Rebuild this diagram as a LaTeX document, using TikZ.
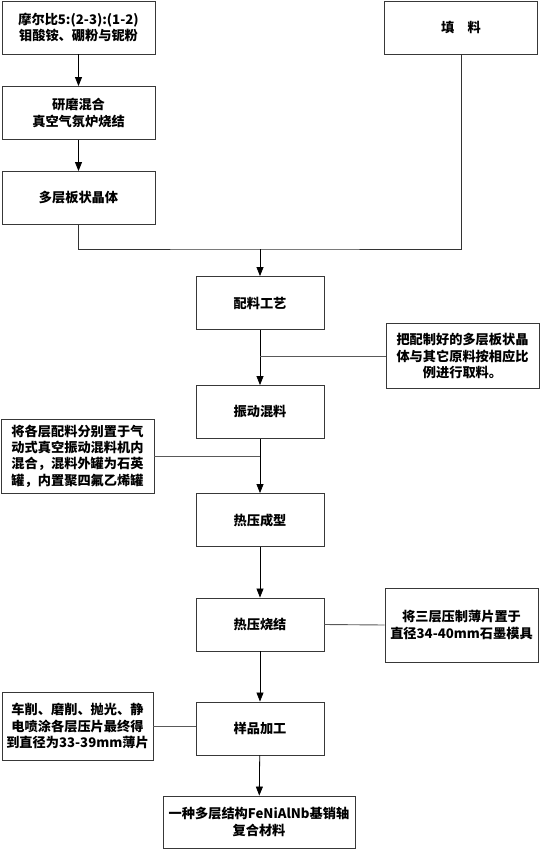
\documentclass[tikz,border=0pt]{standalone}
\usepackage{fontspec}
\setmainfont{Noto Sans CJK SC}
\usetikzlibrary{arrows.meta}
\begin{document}
\begin{tikzpicture}[x=1pt,y=-1pt,
  box/.style={draw=black!78,line width=0.9pt,inner sep=2pt,align=center,
    font=\fontsize{13.2}{16.2}\selectfont\bfseries,text=black},
  mainbox/.style={box,minimum width=128pt,minimum height=53pt},
  leftbox/.style={box,minimum width=153pt,minimum height=53pt},
  arr/.style={line width=0.8pt,black,-{Triangle[length=9pt,width=7pt]}},
  link/.style={line width=0.9pt,black!65}]
\useasboundingbox (0,0) rectangle (540,851);
% top left column
\node[leftbox] (b1) at (78.5,27.5) {摩尔比5:(2-3):(1-2)\\钼酸铵、硼粉与铌粉};
\node[leftbox] (b2) at (78.5,113) {研磨混合\\真空气氛炉烧结};
\node[leftbox] (b3) at (78.5,198) {多层板状晶体};
\node[leftbox] (tl) at (461,27.5) {填\quad 料};
% main column
\node[mainbox] (pl) at (260,303) {配料工艺};
\node[mainbox] (zd) at (260,412) {振动混料};
\node[mainbox] (ry) at (260,520) {热压成型};
\node[mainbox] (rs) at (260,624.5) {热压烧结};
\node[mainbox] (yp) at (260,728.5) {样品加工};
\node[box,minimum width=192pt,minimum height=52pt] (fin) at (259,822) {一种多层结构FeNiAlNb基销轴\\复合材料};
% side boxes
\node[box,minimum width=153pt,minimum height=65pt] (s1) at (462.5,356) {把配制好的多层板状晶\\体与其它原料按相应比\\例进行取料。};
\node[box,minimum width=153pt,minimum height=74pt] (s2) at (77.5,456) {将各层配料分别置于气\\动式真空振动混料机内\\混合，混料外罐为石英\\罐，内置聚四氟乙烯罐};
\node[box,minimum width=153pt,minimum height=74pt] (s3) at (461.5,625) {将三层压制薄片置于\\直径34-40mm石墨模具};
\node[box,minimum width=151pt,minimum height=68pt] (s4) at (77.5,726) {车削、磨削、抛光、静\\电喷涂各层压片最终得\\到直径为33-39mm薄片};
% connectors
\draw[arr] (b1) -- (b2);
\draw[arr] (b2) -- (b3);
\coordinate (j) at (260,249);
\draw[link,black!80] (b3.south) |- (j) -| (tl.south);
\draw[arr] (j) -- (pl.north);
\draw[arr] (pl) -- (zd);
\draw[arr] (zd) -- (ry);
\draw[arr] (ry) -- (rs);
\draw[arr] (rs) -- (yp);
\draw[arr] (yp) -- (fin);
\draw[link] (s1.west) -- (s1.west -| pl.south);
\draw[link] (s2.east) -- (s2.east -| zd.south);
\draw[link] (rs.east) -- (s3.west);
\draw[link] (s4.east) -- (s4.east -| yp.west);
\end{tikzpicture}
\end{document}
